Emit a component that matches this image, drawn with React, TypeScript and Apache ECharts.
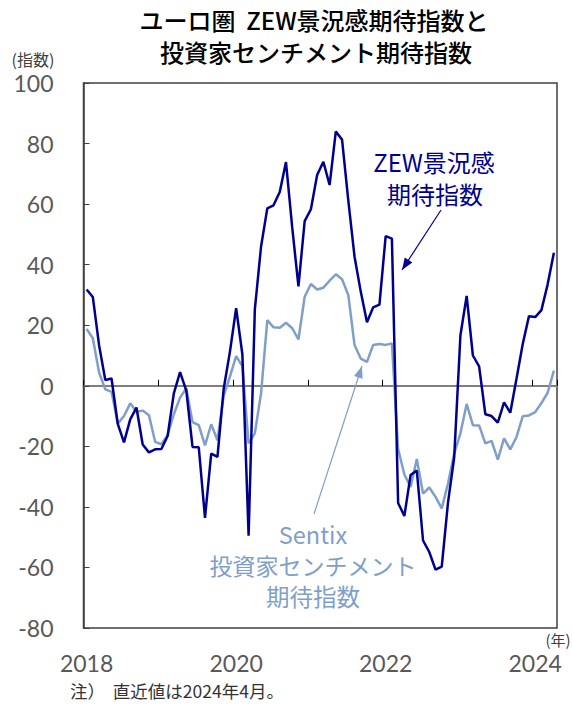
import React, { useEffect, useRef } from "react";
import * as echarts from "echarts";

// ---- Data (monthly, Jan 2018 – Apr 2024) ----
const startYear = 2018;
const endYear = 2024;
const endMonth = 4;

const zewValues = [
  // 2018
  31.8, 29.3, 13.4, 1.9, 2.4, -12.6, -18.7, -11.1, -7.2, -19.4, -22.0, -21.0,
  // 2019
  -20.9, -16.6, -2.5, 4.5, -1.6, -20.2, -20.3, -43.6, -22.4, -23.5, -1.0, 11.2,
  // 2020
  25.6, 10.4, -49.5, 25.2, 46.0, 58.6, 59.6, 64.0, 73.9, 52.3, 32.8, 54.4,
  // 2021
  58.3, 69.6, 74.0, 66.3, 84.0, 81.3, 61.2, 42.7, 31.1, 21.0, 25.9, 26.8,
  // 2022
  49.4, 48.6, -38.7, -43.0, -29.5, -28.0, -51.1, -54.9, -60.7, -59.7, -38.7, -23.6,
  // 2023
  16.7, 29.7, 10.0, 6.4, -9.4, -10.0, -12.2, -5.5, -8.9, 2.3, 13.8, 23.0,
  // 2024
  22.7, 25.0, 33.5, 43.9,
];

const sentixValues = [
  // 2018
  18.8, 15.7, 4.4, -1.2, -2.0, -12.5, -10.0, -5.8, -8.6, -8.2, -9.7, -18.5,
  // 2019
  -19.3, -16.3, -9.4, -3.9, -0.8, -12.0, -13.0, -19.7, -12.7, -18.0, -3.3, 3.0,
  // 2020
  9.8, 6.5, -19.0, -15.7, -2.5, 21.7, 19.3, 19.2, 20.8, 19.0, 15.3, 29.4,
  // 2021
  33.6, 31.8, 32.4, 34.7, 36.8, 35.2, 30.0, 13.5, 9.0, 7.9, 13.5, 13.8,
  // 2022
  13.5, 14.0, -20.8, -29.3, -33.4, -24.2, -35.6, -33.6, -36.7, -40.5, -32.3, -22.4,
  // 2023
  -15.7, -6.0, -13.0, -13.1, -19.0, -18.2, -24.4, -17.4, -21.0, -16.9, -10.1, -9.8,
  // 2024
  -8.7, -5.7, -2.3, 5.0,
];

const xLabelYears = ["2018", "2020", "2022", "2024"];
const yMin = -80;
const yMax = 100;
const yInterval = 20;

const titleLines = ["ユーロ圏  ZEW景況感期待指数と", "投資家センチメント期待指数"];
const zewLabel = ["ZEW景況感", "期待指数"];
const sentixLabel = ["Sentix", "投資家センチメント", "期待指数"];
const yUnit = "(指数)";
const xUnit = "(年)";
const noteText = "注）  直近値は2024年4月。";

const months: string[] = [];
for (let y = startYear; y <= endYear; y++) {
  for (let m = 1; m <= 12; m++) {
    if (y === endYear && m > endMonth) break;
    months.push(`${y}-${m < 10 ? "0" + m : m}`);
  }
}

const ZEW_COLOR = "#00008f";
const SENTIX_COLOR = "#7f9fc9";
const CJK = "'Noto Sans CJK JP', sans-serif";
const NUM = "Lato, 'Noto Sans', sans-serif";

function arrowHead(x1: number, y1: number, x2: number, y2: number, len: number, half: number) {
  const dx = x2 - x1;
  const dy = y2 - y1;
  const L = Math.hypot(dx, dy);
  const ux = dx / L;
  const uy = dy / L;
  const bx = x2 - ux * len;
  const by = y2 - uy * len;
  return [
    [x2, y2],
    [bx - uy * half, by + ux * half],
    [bx + uy * half, by - ux * half],
  ];
}

function textEl(text: string, x: number, y: number, fontSize: number, fill: string, extra: any = {}) {
  return {
    type: "text",
    x,
    y,
    z: 100,
    style: {
      text,
      fill,
      fontSize,
      fontFamily: CJK,
      align: "center",
      verticalAlign: "middle",
      ...extra,
    },
  };
}

export default function App() {
  const ref = useRef<HTMLDivElement>(null);

  useEffect(() => {
    document.body.style.margin = "0";
    if (!ref.current) return;
    const chart = echarts.init(ref.current, undefined, { renderer: "svg" });

    const zewArrow = { x1: 441, y1: 210, x2: 402, y2: 270 };
    const sentixArrow = { x1: 314, y1: 514, x2: 362, y2: 366 };

    const option: any = {
      animation: false,
      backgroundColor: "#ffffff",
      grid: {
        left: 83.5,
        top: 83,
        width: 473.5,
        height: 545,
        show: true,
        borderColor: "#404040",
        borderWidth: 1.5,
        backgroundColor: "transparent",
      },
      xAxis: [
        {
          type: "category",
          data: months,
          boundaryGap: true,
          position: "bottom",
          axisLine: { show: false, onZero: false },
          axisTick: { show: false },
          splitLine: { show: false },
          axisLabel: {
            interval: 0,
            margin: 23,
            fontSize: 23,
            fontFamily: NUM,
            color: "#595959",
            formatter: (v: string) => {
              const [yy, mm] = v.split("-");
              return mm === "01" && xLabelYears.includes(yy) ? yy : "";
            },
          },
        },
        {
          type: "category",
          data: months,
          boundaryGap: true,
          position: "bottom",
          axisLine: { show: true, onZero: true, lineStyle: { color: "#7f7f7f", width: 2 } },
          axisTick: { show: true, inside: true, interval: 11, length: 6, lineStyle: { color: "#000000", width: 1 } },
          axisLabel: { show: false },
          splitLine: { show: false },
        },
      ],
      yAxis: {
        type: "value",
        min: yMin,
        max: yMax,
        interval: yInterval,
        axisLine: { show: true, lineStyle: { color: "#404040", width: 1.5 } },
        axisTick: { show: true, inside: true, length: 6, lineStyle: { color: "#404040", width: 1 } },
        splitLine: { show: false },
        axisLabel: {
          margin: 30,
          fontSize: 23,
          fontFamily: NUM,
          color: "#595959",
        },
      },
      series: [
        {
          name: "Sentix",
          type: "line",
          xAxisIndex: 0,
          data: sentixValues,
          symbol: "none",
          lineStyle: { color: SENTIX_COLOR, width: 2.5 },
          z: 3,
        },
        {
          name: "ZEW",
          type: "line",
          xAxisIndex: 0,
          data: zewValues,
          symbol: "none",
          lineStyle: { color: ZEW_COLOR, width: 2.5 },
          z: 4,
        },
      ],
      graphic: [
        textEl(titleLines[0], 314, 19, 24, "#000000", { fontWeight: 500 }),
        textEl(titleLines[1], 316, 51, 24, "#000000", { fontWeight: 500 }),
        textEl(yUnit, 33, 59, 16, "#404040"),
        textEl(xUnit, 558, 639, 15, "#404040"),
        textEl(noteText, 70, 690, 17.5, "#333333", { align: "left" }),
        textEl(zewLabel[0], 434, 161, 24, ZEW_COLOR),
        textEl(zewLabel[1], 435, 193, 24, ZEW_COLOR),
        textEl(sentixLabel[0], 313, 534, 23.5, SENTIX_COLOR),
        textEl(sentixLabel[1], 313, 565, 23, SENTIX_COLOR),
        textEl(sentixLabel[2], 313, 596, 23.5, SENTIX_COLOR),
        {
          type: "line",
          z: 100,
          shape: { ...zewArrow },
          style: { stroke: ZEW_COLOR, lineWidth: 1.2 },
        },
        {
          type: "polygon",
          z: 100,
          shape: { points: arrowHead(zewArrow.x1, zewArrow.y1, zewArrow.x2, zewArrow.y2, 12, 4.5) },
          style: { fill: ZEW_COLOR },
        },
        {
          type: "line",
          z: 100,
          shape: { ...sentixArrow },
          style: { stroke: SENTIX_COLOR, lineWidth: 1.2 },
        },
        {
          type: "polygon",
          z: 100,
          shape: { points: arrowHead(sentixArrow.x1, sentixArrow.y1, sentixArrow.x2, sentixArrow.y2, 12, 4.5) },
          style: { fill: SENTIX_COLOR },
        },
      ],
    };

    chart.setOption(option);
    return () => chart.dispose();
  }, []);

  return <div ref={ref} style={{ width: 572, height: 706 }} />;
}
